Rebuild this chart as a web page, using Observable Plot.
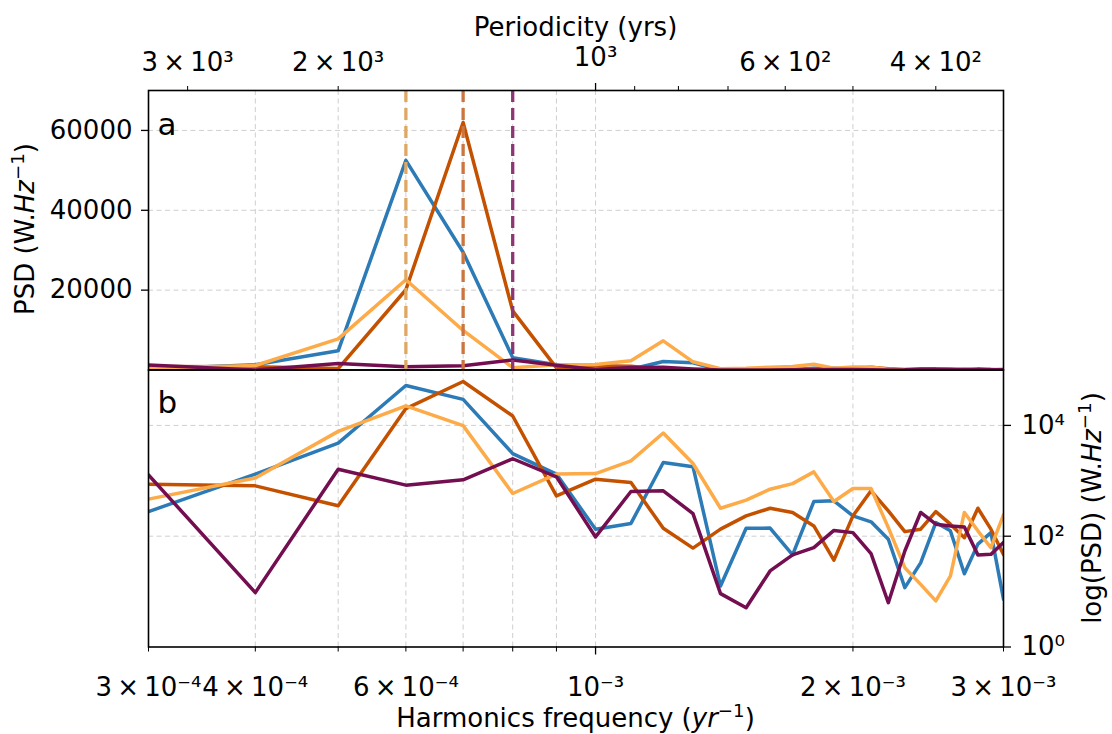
<!DOCTYPE html>
<html>
<head>
<meta charset="utf-8">
<script src="https://cdn.jsdelivr.net/npm/d3@7"></script>
<script src="https://cdn.jsdelivr.net/npm/@observablehq/plot@0.6"></script>
<style>
  html, body { margin: 0; padding: 0; background: #fff; }
  #wrap { position: relative; width: 1112px; height: 734px; font-family: "DejaVu Sans", sans-serif; color: #000; overflow: hidden; }
  #wrap svg { position: absolute; left: 0; top: 0; overflow: visible; }
  .lbl { position: absolute; width: 600px; height: 30px; line-height: 30px; text-align: center; white-space: nowrap; font-size: 26px; }
  .lbl sup { font-size: 0.7em; vertical-align: 0.55em; line-height: 0; }
</style>
</head>
<body>
<div id="wrap"></div>
<script>
// ---------------- data ----------------
const freq = [0.0003, 0.0004, 0.0005, 0.0006, 0.0007, 0.0008, 0.0009, 0.0010, 0.0011, 0.0012,
              0.0013, 0.0014, 0.0015, 0.0016, 0.0017, 0.0018, 0.0019, 0.0020, 0.0021, 0.0022,
              0.0023, 0.0024, 0.0025, 0.0026, 0.0027, 0.0028, 0.0029, 0.0030];

const seriesNames = ["Series 1", "Series 2", "Series 3", "Series 4"];
const seriesColors = ["#2c7bb6", "#c45100", "#fdab49", "#730f50"];

const psdSeries1 = [278, 1320, 4800, 52500, 29500, 3100, 1320, 134, 170, 2140,
                    1800, 12.6, 139, 140, 46, 422, 435, 233, 182, 88,
                    11.8, 33, 176, 125, 21, 72, 116, 7.3];
const psdSeries2 = [870, 810, 354, 20100, 62000, 14800, 535, 1070, 930, 139,
                    61, 134, 233, 320, 268, 153, 37, 233, 660, 286,
                    121, 134, 278, 165, 94, 320, 134, 47];
const psdSeries3 = [467, 1120, 7800, 22600, 9900, 590, 1320, 1350, 2290, 7300,
                    2050, 320, 447, 705, 890, 1450, 422, 724, 724, 143,
                    27, 13.5, 6.8, 19, 268, 125, 62, 243];
const psdSeries4 = [1280, 9.6, 1620, 835, 1040, 2500, 1180, 97, 640, 660,
                    256, 9.2, 5.1, 23.6, 46, 62, 127, 116, 48.5, 6.3,
                    54, 268, 165, 153, 147, 46, 47, 77];

const peakFreqs = [0.0006, 0.0007, 0.0008];
const peakColors = ["#dea763", "#cb7640", "#8d3674"];

const psdTicks = [20000, 40000, 60000];
const logPsdTicks = [1, 100, 10000];
const logPsdLabels = ["10⁰", "10²", "10⁴"];

const freqGrid = [0.0004, 0.0005, 0.0006, 0.0007, 0.0008, 0.0009, 0.001, 0.002];
const freqMajorTicks = [0.001];
const freqMinorTicks = [0.0003, 0.0004, 0.0005, 0.0006, 0.0007, 0.0008, 0.0009, 0.002, 0.003];
const freqLabelValues = [0.0003, 0.0004, 0.0006, 0.002, 0.003];
const freqLabelTexts = ["3\u2009×\u200910⁻⁴", "4\u2009×\u200910⁻⁴", "6\u2009×\u200910⁻⁴", "2\u2009×\u200910⁻³", "3\u2009×\u200910⁻³"];
const freqMajorLabelValues = [0.001];
const freqMajorLabelTexts = ["10⁻³"];

const periodMajorTicks = [1000];
const periodMinorTicks = [3000, 2000, 900, 800, 700, 600, 500, 400];
const periodLabelValues = [3000, 2000, 600, 400];
const periodLabelTexts = ["3\u2009×\u200910³", "2\u2009×\u200910³", "6\u2009×\u200910²", "4\u2009×\u200910²"];
const periodMajorLabelValues = [1000];
const periodMajorLabelTexts = ["10³"];

// ---------------- layout ----------------
const W = 1112, H = 734;
const ML = 148, MR = W - 1003;
const Y_TOP = 90, Y_MID = 369.5, Y_BOT = 646.5;
const xDomain = [0.0003, 0.003];
const FS = 26;

const series = [psdSeries1, psdSeries2, psdSeries3, psdSeries4];
const rows = [];
series.forEach((vals, i) => vals.forEach((v, j) => rows.push({series: seriesNames[i], color: seriesColors[i], f: freq[j], v})));
const peaks = peakFreqs.map((f, i) => ({f, color: peakColors[i]}));
const toRows = (vals, texts, conv = d => d) => vals.map((d, i) => ({f: conv(d), t: texts[i]}));
const logRows = logPsdTicks.map((v, i) => ({v, t: logPsdLabels[i]}));

const gridStyle = {stroke: "#cfcfcf", strokeOpacity: 1, strokeWidth: 1, strokeDasharray: "5,3.5"};
const lineMarks = () => seriesNames.map(name =>
  Plot.line(rows.filter(r => r.series === name), {x: "f", y: "v", stroke: "color", strokeWidth: 3.5, strokeLinejoin: "round", clip: true}));

const common = {
  width: W, height: H, marginLeft: ML, marginRight: MR,
  style: {background: "transparent", fontFamily: "DejaVu Sans, sans-serif", fontSize: FS + "px", color: "#000"},
  color: {type: "identity"}
};

// ---- top panel (linear) ----
const topPlot = Plot.plot({
  ...common,
  marginTop: Y_TOP, marginBottom: H - Y_MID,
  x: {type: "log", domain: xDomain, axis: null},
  y: {domain: [0, 70000], axis: null},
  marks: [
    Plot.gridX(freqGrid, gridStyle),
    Plot.gridY(psdTicks, gridStyle),
    ...lineMarks(),
    Plot.ruleX(peaks, {x: "f", stroke: "color", strokeWidth: 3.3, strokeDasharray: "12,6"}),
    Plot.frame({stroke: "#000", strokeWidth: 1.6}),
    Plot.axisY(psdTicks, {anchor: "left", tickSize: 7, tickPadding: 9, strokeWidth: 1.3, fontSize: FS, tickFormat: d => String(d), label: null}),
    Plot.axisX(periodMajorTicks.map(p => 1 / p), {anchor: "top", tickSize: 8, strokeWidth: 1.3, tickFormat: () => "", label: null}),
    Plot.axisX(periodMinorTicks.map(p => 1 / p), {anchor: "top", tickSize: 5, strokeWidth: 1, tickFormat: () => "", label: null}),
    Plot.text(toRows(periodLabelValues, periodLabelTexts, p => 1 / p), {x: "f", text: "t", frameAnchor: "top", lineAnchor: "middle", dy: -28, fontSize: FS}),
    Plot.text(toRows(periodMajorLabelValues, periodMajorLabelTexts, p => 1 / p), {x: "f", text: "t", frameAnchor: "top", lineAnchor: "middle", dy: -33, fontSize: FS}),
    Plot.text(["a"], {text: d => d, frameAnchor: "top-left", lineAnchor: "middle", dx: 9, dy: 35, fontSize: 31})
  ]
});

// ---- bottom panel (log) ----
const bottomPlot = Plot.plot({
  ...common,
  marginTop: Y_MID, marginBottom: H - Y_BOT,
  x: {type: "log", domain: xDomain, axis: null},
  y: {type: "log", domain: [1, 1e5], axis: null},
  marks: [
    Plot.gridX(freqGrid, gridStyle),
    Plot.gridY([100, 10000], gridStyle),
    ...lineMarks(),
    Plot.frame({stroke: "#000", strokeWidth: 1.6}),
    Plot.axisY(logPsdTicks, {anchor: "right", tickSize: 7, strokeWidth: 1.3, tickFormat: () => "", label: null}),
    Plot.text(logRows, {y: "v", text: "t", frameAnchor: "right", textAnchor: "start", lineAnchor: "middle", dx: 18, fontSize: FS}),
    Plot.axisX(freqMajorTicks, {anchor: "bottom", tickSize: 8, strokeWidth: 1.3, tickFormat: () => "", label: null}),
    Plot.axisX(freqMinorTicks, {anchor: "bottom", tickSize: 5, strokeWidth: 1, tickFormat: () => "", label: null}),
    Plot.text(toRows(freqLabelValues, freqLabelTexts), {x: "f", text: "t", frameAnchor: "bottom", lineAnchor: "middle", dy: 41, fontSize: FS}),
    Plot.text(toRows(freqMajorLabelValues, freqMajorLabelTexts), {x: "f", text: "t", frameAnchor: "bottom", lineAnchor: "middle", dy: 41, fontSize: FS}),
    Plot.text(["b"], {text: d => d, frameAnchor: "top-left", lineAnchor: "middle", dx: 9, dy: 33, fontSize: 31})
  ]
});

const wrap = document.getElementById("wrap");
wrap.appendChild(topPlot);
wrap.appendChild(bottomPlot);

function addLabel(html, cx, cy, rot) {
  const d = document.createElement("div");
  d.className = "lbl";
  d.innerHTML = html;
  d.style.left = (cx - 300) + "px";
  d.style.top = (cy - 15) + "px";
  d.style.transform = `rotate(${rot}deg)`;
  d.style.transformOrigin = "50% 50%";
  wrap.appendChild(d);
}
addLabel("Periodicity (yrs)", 575.5, 27, 0);
addLabel("Harmonics frequency (<i>yr</i><sup>−1</sup>)", 575.5, 718, 0);
addLabel("PSD (W.<i>Hz</i><sup>−1</sup>)", 25, 229, -90);
addLabel("log(PSD) (W.<i>Hz</i><sup>−1</sup>)", 1092, 508, -90);
</script>
</body>
</html>
